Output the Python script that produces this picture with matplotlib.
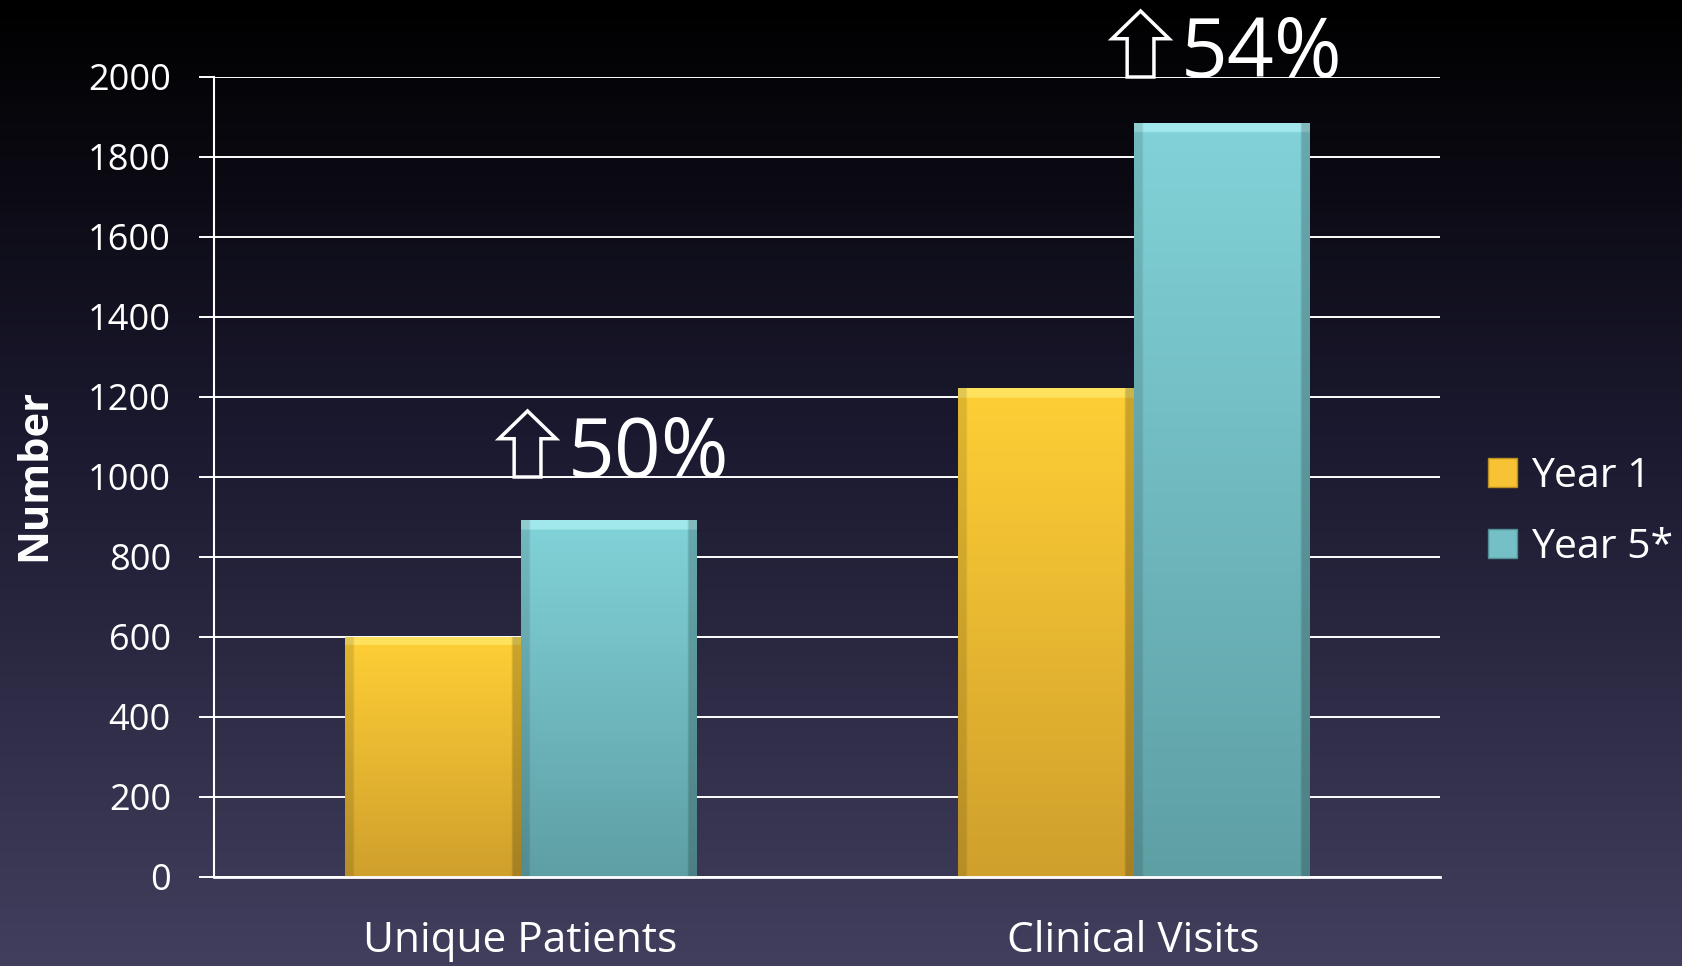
import numpy as np
import matplotlib
matplotlib.use("Agg")
import matplotlib.pyplot as plt
from matplotlib.patches import Polygon, Patch
from matplotlib.colors import to_rgb

# ---- data ----
categories = ["Unique Patients", "Clinical Visits"]
series_names = ["Year 1", "Year 5*"]
year1 = [600, 1222]
year5 = [892, 1885]
yticks = [0, 200, 400, 600, 800, 1000, 1200, 1400, 1600, 1800, 2000]
increase_labels = ["50%", "54%"]

FONT = ["Open Sans", "DejaVu Sans"]
plt.rcParams["font.family"] = FONT

W, H = 1682, 966
fig = plt.figure(figsize=(W / 100, H / 100), dpi=100)

# background gradient
bg = fig.add_axes([0, 0, 1, 1])
bg.set_axis_off()
stops = [(0.0, "#000000"), (0.45, "#1b192f"), (1.0, "#413f5d")]
t = np.linspace(0, 1, 400)
cols = np.zeros((400, 3))
for i in range(3):
    cols[:, i] = np.interp(t, [s[0] for s in stops], [to_rgb(s[1])[i] for s in stops])
bg.imshow(cols[:, None, :], aspect="auto", extent=[0, 1, 0, 1], origin="upper")
bg.set_xlim(0, 1)
bg.set_ylim(0, 1)

left, right, top, bottom = 214, 1440, 77, 877
ax = fig.add_axes([left / W, 1 - bottom / H, (right - left) / W, (bottom - top) / H])
ax.patch.set_alpha(0)

x = np.arange(len(categories))
bw = 0.2855
b1 = ax.bar(x - bw / 2, year1, bw, color="#f7c233", zorder=2)
b2 = ax.bar(x + bw / 2, year5, bw, color="#74c0c6", zorder=2)

def shade(top_c, bot_c, hi_c, h):
    n = 300
    tt = np.linspace(0, 1, n)
    c0, c1, ch = np.array(to_rgb(top_c)), np.array(to_rgb(bot_c)), np.array(to_rgb(hi_c))
    img = c0[None, :] * (1 - tt[:, None]) + c1[None, :] * tt[:, None]
    hfrac = 22 / h
    m = tt < hfrac
    img[m] = ch * 0.6 + img[m] * 0.4
    img = np.repeat(img[:, None, :], 60, axis=1)
    cx = np.linspace(0, 1, 60)
    edge = np.ones(60)
    edge[cx < 0.04] = 0.88
    edge[cx > 0.96] = 0.8
    img = img * edge[None, :, None]
    return np.clip(img, 0, 1)

for bars, tc, bc, hc in [(b1, "#ffcf36", "#cfa02c", "#fff07a"),
                         (b2, "#81d3d9", "#5e9fa4", "#b8f7f9")]:
    for p in bars:
        x0, w_, h_ = p.get_x(), p.get_width(), p.get_height()
        im = ax.imshow(shade(tc, bc, hc, h_), extent=[x0, x0 + w_, 0, h_],
                       aspect="auto", origin="upper", zorder=2.1)
        im.set_clip_path(p)

ax.set_xlim(-0.5, 1.5)
ax.set_ylim(0, 2000)
ax.set_yticks(yticks)
ax.set_yticklabels([str(v) for v in yticks])
ax.set_xticks(x)
ax.set_xticklabels(categories)
ax.set_axisbelow(True)
ax.yaxis.grid(True, color="white", lw=1.4)
ax.tick_params(axis="y", colors="white", labelsize=26, length=11, width=1.4, pad=20)
ax.tick_params(axis="x", colors="white", labelsize=30.5, length=0, pad=31)
for s in ["top", "right"]:
    ax.spines[s].set_visible(False)
ax.spines["left"].set_color("white")
ax.spines["left"].set_linewidth(1.5)
ax.spines["bottom"].set_color("white")
ax.spines["bottom"].set_linewidth(2)
ax.spines["bottom"].set_zorder(3)

fig.text(35 / W, 1 - 475 / H, "Number", rotation=90, color="white",
         fontsize=30, fontweight="bold", ha="center", va="center")

# increase arrows + labels
def up_arrow(xc, ybase, wdata, hdata):
    hw = wdata / 2
    sw = wdata * 0.47 / 2
    hh = hdata * 0.42
    pts = [(xc - sw, ybase), (xc + sw, ybase), (xc + sw, ybase + hdata - hh),
           (xc + hw, ybase + hdata - hh), (xc, ybase + hdata),
           (xc - hw, ybase + hdata - hh), (xc - sw, ybase + hdata - hh)]
    ax.add_patch(Polygon(pts, closed=True, fill=False, ec="white", lw=2.5,
                         clip_on=False, zorder=5))

for i, (v, lab) in enumerate(zip(year1, increase_labels)):
    base = [1000, 2000][i]
    xc = x[i] + 0.0115
    up_arrow(xc, base, 0.093, 165)
    ax.text(x[i] + 0.077, base, lab, color="white", fontsize=59,
            ha="left", va="baseline", clip_on=False, zorder=5)

handles = [Patch(facecolor="#f7c233", edgecolor="#b8901e"),
           Patch(facecolor="#74c0c6", edgecolor="#4f8e92")]
leg = fig.legend(handles, series_names, loc="center left",
                 bbox_to_anchor=(1488 / W, 1 - 512 / H), frameon=False,
                 fontsize=29.5, labelcolor="white", handlelength=0.7,
                 handleheight=0.7, handletextpad=0.35, labelspacing=0.75,
                 borderpad=0, borderaxespad=0)

fig.savefig("out.png", dpi=100)
